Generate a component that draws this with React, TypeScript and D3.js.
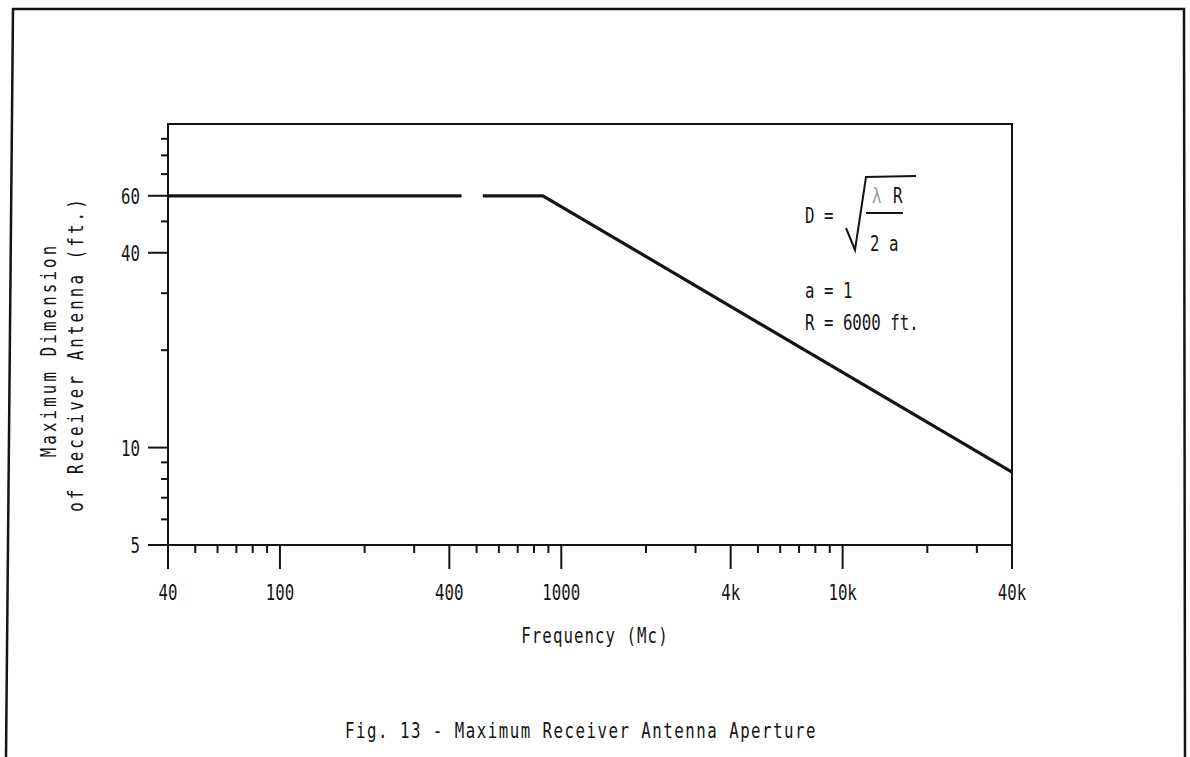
import React, { useEffect, useRef } from 'react';
import * as d3 from 'd3';

// frequency (Mc) vs. maximum dimension (ft.)
const lowBand: [number, number][] = [[40, 60], [442, 60]];
const highBand: [number, number][] = [[526, 60], [860, 60], [40000, 8.4]];

const xMajor = [40, 100, 400, 1000, 4000, 10000, 40000];
const xLabels = ['40', '100', '400', '1000', '4k', '10k', '40k'];
const xMinor = [50, 60, 70, 80, 90, 200, 300, 500, 600, 700, 800, 900, 2000, 3000, 5000, 6000, 7000, 8000, 9000, 20000, 30000];

const yMajor = [5, 10, 40, 60];
const yLabels = ['5', '10', '40', '60'];
const yMinor = [6, 7, 8, 9, 20, 30, 50, 70, 80, 90];

const formulaLines = ['a = 1', 'R = 6000 ft.'];

const INK = '#141414';
const FONT = '"DejaVu Sans Mono", "Liberation Mono", monospace';

const App: React.FC = () => {
    const ref = useRef<SVGSVGElement>(null);

    useEffect(() => {
        const svg = d3.select(ref.current);
        svg.selectAll('*').remove();

        const x = d3.scaleLog().domain([40, 40000]).range([168, 1012]);
        const y = d3.scaleLog().domain([5, 100]).range([545, 124]);

        const txt = (s: string, tx: number, ty: number, anchor = 'start', ls = 0, rot = false, fill = INK) =>
            svg.append('text')
                .attr('transform', `translate(${tx},${ty})${rot ? ' rotate(-90)' : ''} scale(0.75,1)`)
                .attr('text-anchor', anchor)
                .attr('font-family', FONT)
                .attr('font-size', 21)
                .style('letter-spacing', `${ls}px`)
                .attr('fill', fill)
                .text(s);

        // outer page frame (scan is slightly skewed)
        svg.append('path')
            .attr('d', 'M6,757 L13,9 L1184,9 L1185,757')
            .attr('fill', 'none')
            .attr('stroke', INK)
            .attr('stroke-width', 2.5);

        // plot box
        svg.append('rect')
            .attr('x', x(40)).attr('y', y(100))
            .attr('width', x(40000) - x(40)).attr('height', y(5) - y(100))
            .attr('fill', 'none')
            .attr('stroke', INK)
            .attr('stroke-width', 2);

        // x ticks
        svg.append('g').selectAll('line.xmaj').data(xMajor).enter().append('line')
            .attr('x1', d => x(d)).attr('x2', d => x(d))
            .attr('y1', y(5)).attr('y2', y(5) + 24)
            .attr('stroke', INK).attr('stroke-width', 2);
        svg.append('g').selectAll('line.xmin').data(xMinor).enter().append('line')
            .attr('x1', d => x(d)).attr('x2', d => x(d))
            .attr('y1', y(5)).attr('y2', y(5) + 8)
            .attr('stroke', INK).attr('stroke-width', 2);
        xMajor.forEach((d, i) => txt(xLabels[i], x(d), 600, 'middle'));

        // y ticks
        svg.append('g').selectAll('line.ymaj').data(yMajor).enter().append('line')
            .attr('x1', x(40) - 20).attr('x2', x(40))
            .attr('y1', d => y(d)).attr('y2', d => y(d))
            .attr('stroke', INK).attr('stroke-width', 2);
        svg.append('g').selectAll('line.ymin').data(yMinor).enter().append('line')
            .attr('x1', x(40) - 7).attr('x2', x(40))
            .attr('y1', d => y(d)).attr('y2', d => y(d))
            .attr('stroke', INK).attr('stroke-width', 2);
        yMajor.forEach((d, i) => txt(yLabels[i], 140, y(d) + 8, 'end'));

        // curve
        const line = d3.line<[number, number]>().x(d => x(d[0])).y(d => y(d[1]));
        [lowBand, highBand].forEach(seg => {
            svg.append('path')
                .attr('d', line(seg))
                .attr('fill', 'none')
                .attr('stroke', INK)
                .attr('stroke-width', 3.2);
        });

        // axis titles
        txt('Frequency (Mc)', 595, 643, 'middle', 1.4);
        txt('Maximum Dimension', 56, 350, 'middle', 4.2, true);
        txt('of Receiver Antenna (ft.)', 83, 354, 'middle', 4.2, true);

        // formula
        txt('D =', 805, 223);
        txt('\u03bb', 872, 203, 'start', 0, false, '#9a9a9a');
        txt('R', 893, 203);
        svg.append('line')
            .attr('x1', 866).attr('x2', 903).attr('y1', 213).attr('y2', 213)
            .attr('stroke', INK).attr('stroke-width', 2);
        txt('2 a', 870, 251);
        svg.append('path')
            .attr('d', 'M846,228 L855,250 L866,177 L916,176')
            .attr('fill', 'none')
            .attr('stroke', INK)
            .attr('stroke-width', 2);
        formulaLines.forEach((s, i) => txt(s, 805, 298 + i * 32));

        // caption
        txt('Fig. 13 - Maximum Receiver Antenna Aperture', 581, 738, 'middle', 2);
    }, []);

    return (
        <svg
            ref={ref}
            width={1190}
            height={757}
            style={{ position: 'absolute', left: 0, top: 0, display: 'block', background: '#fff' }}
        />
    );
};

export default App;
